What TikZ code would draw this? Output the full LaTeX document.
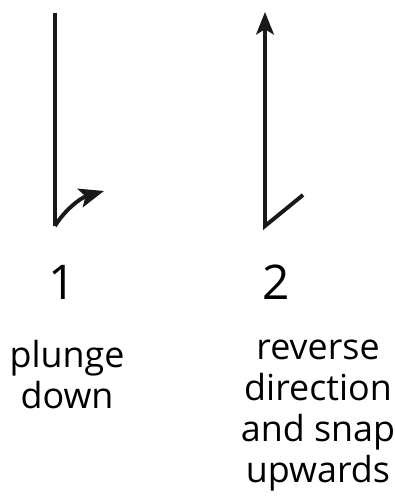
\documentclass[tikz,border=0pt]{standalone}
\usepackage{fontspec}
\setmainfont{Open Sans}
\usepackage{tikz}
\usetikzlibrary{arrows.meta,positioning}
\tikzset{
  stroke/.style={line width=2.8pt,black!90},
  arr/.style={stroke,-{Stealth[length=5.6mm,width=4.4mm,inset=1.3mm]}},
  bigarr/.style={stroke,-{Stealth[length=6.2mm,width=4.8mm,inset=1.4mm]}},
  numlbl/.style={font=\fontsize{34}{40}\selectfont,inner sep=0pt},
  txtlbl/.style={font=\fontsize{25.5}{29}\selectfont,align=center,inner sep=0pt,anchor=north}
}
\begin{document}
\begin{tikzpicture}[x=0.025cm,y=0.025cm]
\useasboundingbox (0,0) rectangle (394,503);
% step 1: plunge down
\coordinate (top1) at (55,490);
\coordinate (bot1) at (55,277);
\coordinate (tip1) at (104,312);
\draw[stroke,line join=miter] (top1) -- (bot1);
\draw[bigarr] (bot1) .. controls (64,292) and (80,305) .. (tip1);
% step 2: reverse and snap up
\coordinate (end2) at (303,308);
\coordinate (bot2) at (265,277);
\coordinate (top2) at (265,491);
\draw[arr,line join=miter] (end2) -- (bot2) -- (top2);
% labels
\node[numlbl] (n1) at (62,221) {1};
\node[numlbl] (n2) at (276,221) {2};
\node[txtlbl] (t1) at (67,163) {plunge\\down};
\node[txtlbl] (t2) at (318,163) {reverse\\direction\\and snap\\upwards};
\end{tikzpicture}
\end{document}
